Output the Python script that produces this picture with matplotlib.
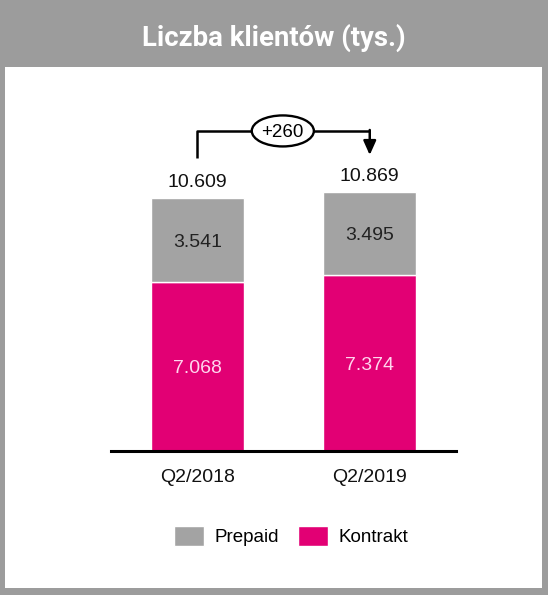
import numpy as np
import matplotlib.pyplot as plt
from matplotlib.patches import Ellipse, Rectangle

plt.rcParams['font.family'] = ['Liberation Sans', 'DejaVu Sans']

# data
quarters = ['Q2/2018', 'Q2/2019']
kontrakt = [7.068, 7.374]
prepaid = [3.541, 3.495]
totals = ['10.609', '10.869']
kontrakt_labels = ['7.068', '7.374']
prepaid_labels = ['3.541', '3.495']
change_label = '+260'

magenta = '#e20074'
grey = '#a3a3a3'
bg = '#9c9c9c'

W, H = 548, 595
fig = plt.figure(figsize=(W / 100, H / 100), dpi=100, facecolor=bg)

# white panel
fig.patches.append(Rectangle((5 / W, 7 / H), 537 / W, (595 - 67 - 7) / H,
                             transform=fig.transFigure, facecolor='white',
                             edgecolor='none', zorder=-5))
fig.text(0.5, 1 - 46 / H, 'Liczba klientów (tys.)', ha='center', va='baseline',
         color='white', fontsize=19.8, fontweight='bold', family='Roboto')

ax_l, ax_r, ax_b, ax_t = 111, 456, 451, 120
ax = fig.add_axes([ax_l / W, 1 - ax_b / H, (ax_r - ax_l) / W, (ax_b - ax_t) / H])
ax.set_facecolor('none')
ax.set_zorder(2)

x = np.arange(len(quarters))
width = 0.54
ax.bar(x, kontrakt, width, color=magenta, edgecolor='white', linewidth=1,
       label='Kontrakt')
ax.bar(x, prepaid, width, bottom=kontrakt, color=grey, edgecolor='white',
       linewidth=1, label='Prepaid')

ax.set_xlim(-0.5, 1.5)
ymax = (ax_b - ax_t) / 23.85
ax.set_ylim(0, ymax)

for i in x:
    ax.text(i, kontrakt[i] / 2, kontrakt_labels[i], ha='center',
            va='center_baseline', color='#ffd6ee', fontsize=14)
    ax.text(i, kontrakt[i] + prepaid[i] / 2, prepaid_labels[i], ha='center',
            va='center_baseline', color='#222222', fontsize=14)
    ax.text(i, kontrakt[i] + prepaid[i] + 0.3, totals[i], ha='center',
            va='bottom', color='#111111', fontsize=14)

# change arrow
top_y = 13.42
x0, x1 = 0, 1
ax.plot([x0, x0, x1], [12.28, top_y, top_y],
        color='black', lw=1.8, clip_on=False, solid_capstyle='butt')
ax.annotate('', xy=(x1, 12.41), xytext=(x1, top_y + 0.04),
            arrowprops=dict(arrowstyle='-|>,head_width=0.38,head_length=0.85',
                            color='black', lw=1.8, shrinkA=0, shrinkB=0),
            annotation_clip=False)
ex = 0.496
ax.add_patch(Ellipse((ex, top_y), 0.36, 1.3, facecolor='white',
                     edgecolor='black', lw=1.7, zorder=5, clip_on=False))
ax.text(ex, top_y, change_label, ha='center', va='center_baseline', fontsize=13.5,
        zorder=6, color='black')

for s in ['top', 'right', 'left']:
    ax.spines[s].set_visible(False)
ax.spines['bottom'].set_linewidth(2.2)
ax.set_yticks([])
ax.set_xticks(x)
ax.set_xticklabels(quarters, fontsize=14, color='#111111')
ax.tick_params(axis='x', length=0, pad=13)

handles, labels = ax.get_legend_handles_labels()
fig.legend(handles[::-1], labels[::-1], loc='center',
           bbox_to_anchor=(291 / W, 1 - 536 / H), ncol=2, frameon=False,
           fontsize=13.5, handlelength=1.6, handleheight=1.25, columnspacing=1.0,
           handletextpad=0.55)

fig.savefig('out.png', dpi=100, facecolor=bg)
